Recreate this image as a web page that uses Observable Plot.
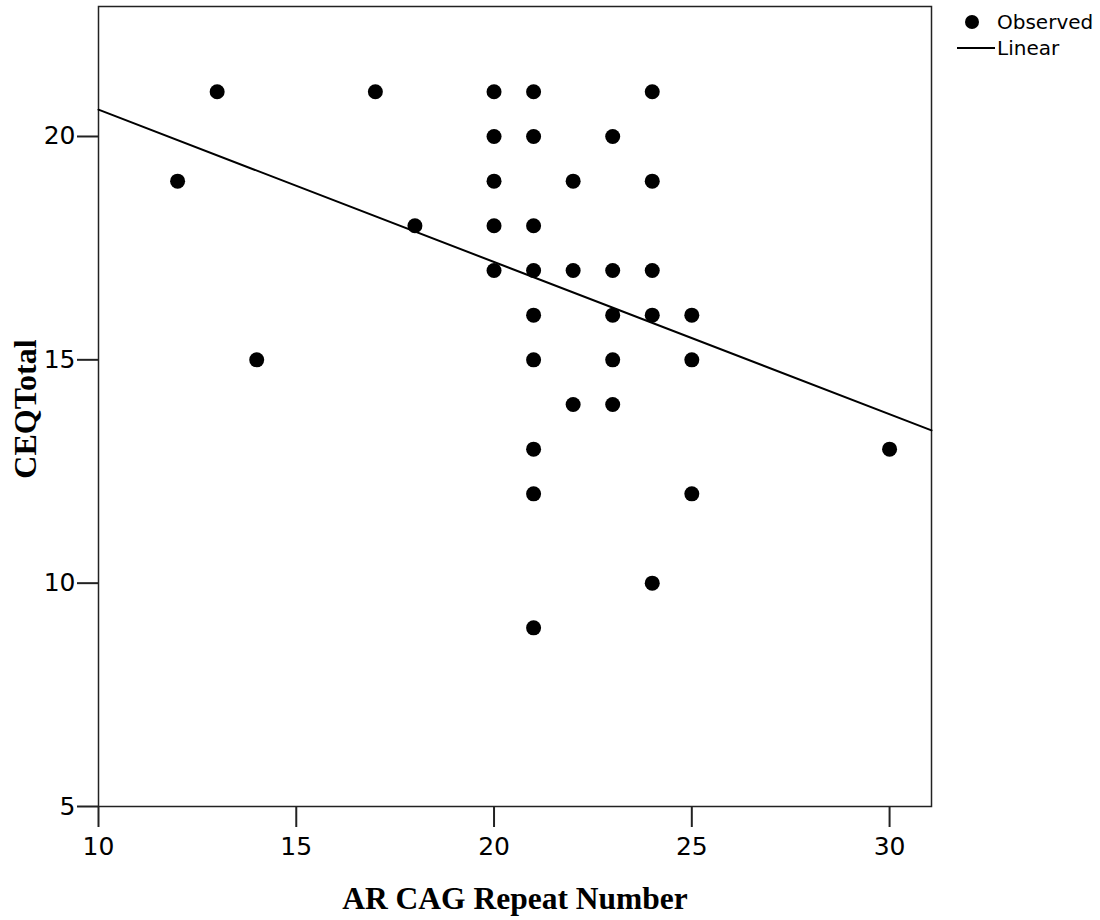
<!DOCTYPE html>
<html>
<head>
<meta charset="utf-8">
<script src="https://cdn.jsdelivr.net/npm/d3@7"></script>
<script src="https://cdn.jsdelivr.net/npm/@observablehq/plot@0.6"></script>
<style>
  html, body { margin: 0; padding: 0; background: #fff; }
  #wrap { position: relative; width: 1100px; height: 920px; }
  #legend { position: absolute; left: 947px; top: 9px; font-family: "DejaVu Sans", sans-serif; font-size: 20px; color: #000; }
  #legend .row { display: flex; align-items: center; height: 26px; }
  #legend .sym { width: 50px; display: flex; justify-content: center; align-items: center; }
</style>
</head>
<body>
<div id="wrap"></div>
<script>
const repeatNumber = [12, 13, 14, 17, 18, 20, 20, 20, 20, 20, 21, 21, 21, 21, 21, 21, 21, 21, 21, 22, 22, 22, 23, 23, 23, 23, 23, 24, 24, 24, 24, 24, 25, 25, 25, 30];
const ceqTotal     = [19, 21, 15, 21, 18, 21, 20, 19, 18, 17, 21, 20, 18, 17, 16, 15, 13, 12,  9, 19, 17, 14, 20, 17, 16, 15, 14, 21, 19, 17, 16, 10, 16, 15, 12, 13];
const fitX = [10, 31.06];
const fitY = [20.6, 13.42];
const xTicks = [10, 15, 20, 25, 30];
const yTicks = [5, 10, 15, 20];
const legendLabels = ["Observed", "Linear"];

const points = repeatNumber.map((x, i) => ({x, y: ceqTotal[i]}));
const fit = fitX.map((x, i) => ({x, y: fitY[i]}));

const chart = Plot.plot({
  width: 1100,
  height: 920,
  marginLeft: 98,
  marginRight: 169,
  marginTop: 6,
  marginBottom: 114,
  style: {background: "#fff"},
  x: {domain: [10, 31.06]},
  y: {domain: [5, 22.91]},
  marks: [
    Plot.frame({stroke: "#222", strokeWidth: 1.5}),
    Plot.axisX({ticks: xTicks, tickSize: 21, tickPadding: 10, fontSize: 25, fontFamily: "DejaVu Sans", label: null, stroke: "#222", strokeWidth: 2}),
    Plot.axisY({ticks: yTicks, tickSize: 21, tickPadding: 2, fontSize: 25, fontFamily: "DejaVu Sans", label: null, stroke: "#222", strokeWidth: 2}),
    Plot.line(fit, {x: "x", y: "y", stroke: "#000", strokeWidth: 2}),
    Plot.dot(points, {x: "x", y: "y", r: 7.5, fill: "#000", stroke: null})
  ]
});
const svg = d3.select(chart);
svg.selectAll("text").attr("fill", "#000");
svg.append("text")
  .attr("x", 515).attr("y", 909)
  .attr("text-anchor", "middle")
  .attr("font-family", "Liberation Serif").attr("font-weight", "bold").attr("font-size", 31.5)
  .text("AR CAG Repeat Number");
svg.append("text")
  .attr("transform", "translate(36,409) rotate(-90)")
  .attr("text-anchor", "middle")
  .attr("font-family", "Liberation Serif").attr("font-weight", "bold").attr("font-size", 32)
  .text("CEQTotal");

const wrap = document.getElementById("wrap");
wrap.appendChild(chart);
const legend = document.createElement("div");
legend.id = "legend";
legend.innerHTML = `
  <div class="row"><div class="sym"><svg width="16" height="16"><circle cx="8" cy="8" r="7" fill="#000"/></svg></div><span>${legendLabels[0]}</span></div>
  <div class="row"><div class="sym"><svg width="46" height="6"><line x1="8" x2="46" y1="3" y2="3" stroke="#000" stroke-width="2"/></svg></div><span>${legendLabels[1]}</span></div>`;
wrap.appendChild(legend);
</script>
</body>
</html>
